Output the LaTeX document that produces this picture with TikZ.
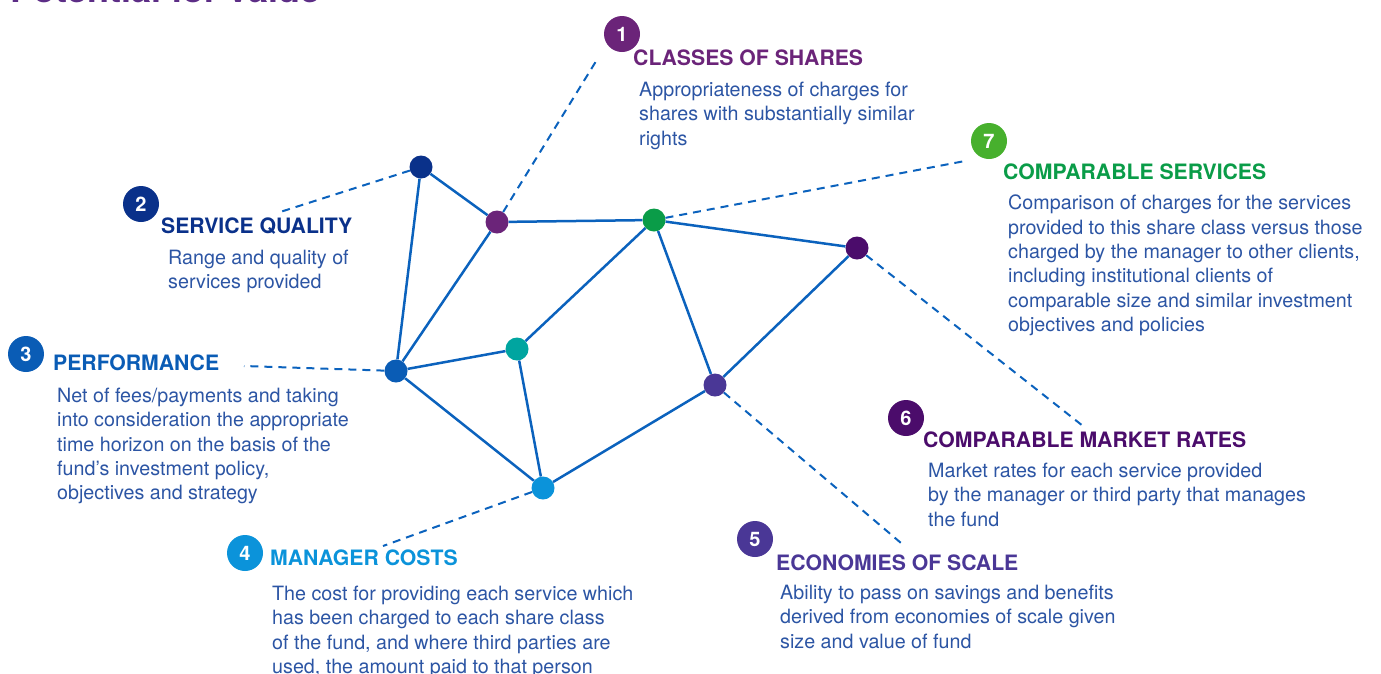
\documentclass[tikz,border=0pt]{standalone}
\usepackage{fontspec}
\setmainfont{TeX Gyre Heros}
\definecolor{titlepurple}{HTML}{5C2D86}
\definecolor{sharepurple}{HTML}{6B2479}
\definecolor{qualnavy}{HTML}{0A318A}
\definecolor{perfblue}{HTML}{0A5CB5}
\definecolor{costcyan}{HTML}{0B93DA}
\definecolor{scaleindigo}{HTML}{4A3796}
\definecolor{ratepurple}{HTML}{4B0C6B}
\definecolor{servgreen}{HTML}{0A9C48}
\definecolor{sevengreen}{HTML}{47B02D}
\definecolor{midteal}{HTML}{00A5A0}
\definecolor{bodyblue}{HTML}{2C55A4}
\definecolor{lineblue}{HTML}{0B62BD}
\tikzset{
	dot/.style={circle,fill=#1,inner sep=0pt,minimum size=23pt},
	num/.style={circle,fill=#1,inner sep=0pt,minimum size=36pt,text=white,font=\fontsize{20}{20}\selectfont\bfseries},
	head/.style={anchor=base west,inner sep=0pt,text=#1,font=\fontsize{21.2}{21.2}\selectfont\bfseries},
	body/.style={anchor=north west,inner sep=0pt,align=left,text=bodyblue,font=\fontsize{19.7}{24.3}\selectfont},
	link/.style={draw=lineblue,line width=2.5pt},
	lead/.style={draw=lineblue,line width=2pt,dash pattern=on 8pt off 6pt}
}
\begin{document}
\begin{tikzpicture}[x=1pt,y=-1pt]
	\useasboundingbox (0,0) rectangle (1381,673);
	% title, cut off at the top edge
	\node[anchor=base west,inner sep=0pt,text=titlepurple,font=\fontsize{36}{36}\selectfont\bfseries] (title) at (10,2) {Potential for value};
	% network dots
	\node[dot=qualnavy] (q) at (421,167) {};
	\node[dot=sharepurple] (s) at (497,222) {};
	\node[dot=servgreen] (c) at (654,220) {};
	\node[dot=ratepurple] (r) at (857,248) {};
	\node[dot=midteal] (t) at (517,349) {};
	\node[dot=perfblue] (p) at (396,371) {};
	\node[dot=scaleindigo] (e) at (715,385) {};
	\node[dot=costcyan] (m) at (543,488) {};
	\foreach \a/\b in {q/s,q/p,s/c,s/p,p/t,p/m,t/c,t/m,c/r,c/e,r/e,e/m}
	\draw[link] (\a)--(\b);
	% free ends of the dashed leads
	\coordinate (sEnd) at (598,58);
	\coordinate (qEnd) at (277,213);
	\coordinate (pEnd) at (244,366);
	\coordinate (mEnd) at (383,546);
	\coordinate (eEnd) at (901,543);
	\coordinate (rEnd) at (1083,426);
	\coordinate (cEnd) at (965,161);
	\foreach \a in {s,q,p,m,e,r,c}
	\draw[lead] (\a)--(\a End);
	% 1
	\node[num=sharepurple] (n1) at (622,34) {1};
	\node[head=sharepurple] (h1) at (633,65) {CLASSES OF SHARES};
	\node[body] (b1) at (639,82) {Appropriateness of charges for\\shares with substantially similar\\rights};
	% 2
	\node[num=qualnavy] (n2) at (141,204) {2};
	\node[head=qualnavy] (h2) at (161,233) {SERVICE QUALITY};
	\node[body] (b2) at (168,250) {Range and quality of\\services provided};
	% 3
	\node[num=perfblue] (n3) at (26,354) {3};
	\node[head=perfblue] (h3) at (53,370) {PERFORMANCE};
	\node[body] (b3) at (57,388) {Net of fees/payments and taking\\into consideration the appropriate\\time horizon on the basis of the\\fund’s investment policy,\\objectives and strategy};
	% 4
	\node[num=costcyan] (n4) at (245,553) {4};
	\node[head=costcyan] (h4) at (270,565) {MANAGER COSTS};
	\node[body] (b4) at (272,586) {The cost for providing each service which\\has been charged to each share class\\of the fund, and where third parties are\\used, the amount paid to that person};
	% 5
	\node[num=scaleindigo] (n5) at (755,539) {5};
	\node[head=scaleindigo] (h5) at (776,570) {ECONOMIES OF SCALE};
	\node[body] (b5) at (780,585) {Ability to pass on savings and benefits\\derived from economies of scale given\\size and value of fund};
	% 6
	\node[num=ratepurple] (n6) at (906,418) {6};
	\node[head=ratepurple] (h6) at (923,447) {COMPARABLE MARKET RATES};
	\node[body] (b6) at (928,463) {Market rates for each service provided\\by the manager or third party that manages\\the fund};
	% 7
	\node[num=sevengreen] (n7) at (989,141) {7};
	\node[head=servgreen] (h7) at (1003,179) {COMPARABLE SERVICES};
	\node[body] (b7) at (1008,195) {Comparison of charges for the services\\provided to this share class versus those\\charged by the manager to other clients,\\including institutional clients of\\comparable size and similar investment\\objectives and policies};
\end{tikzpicture}
\end{document}
